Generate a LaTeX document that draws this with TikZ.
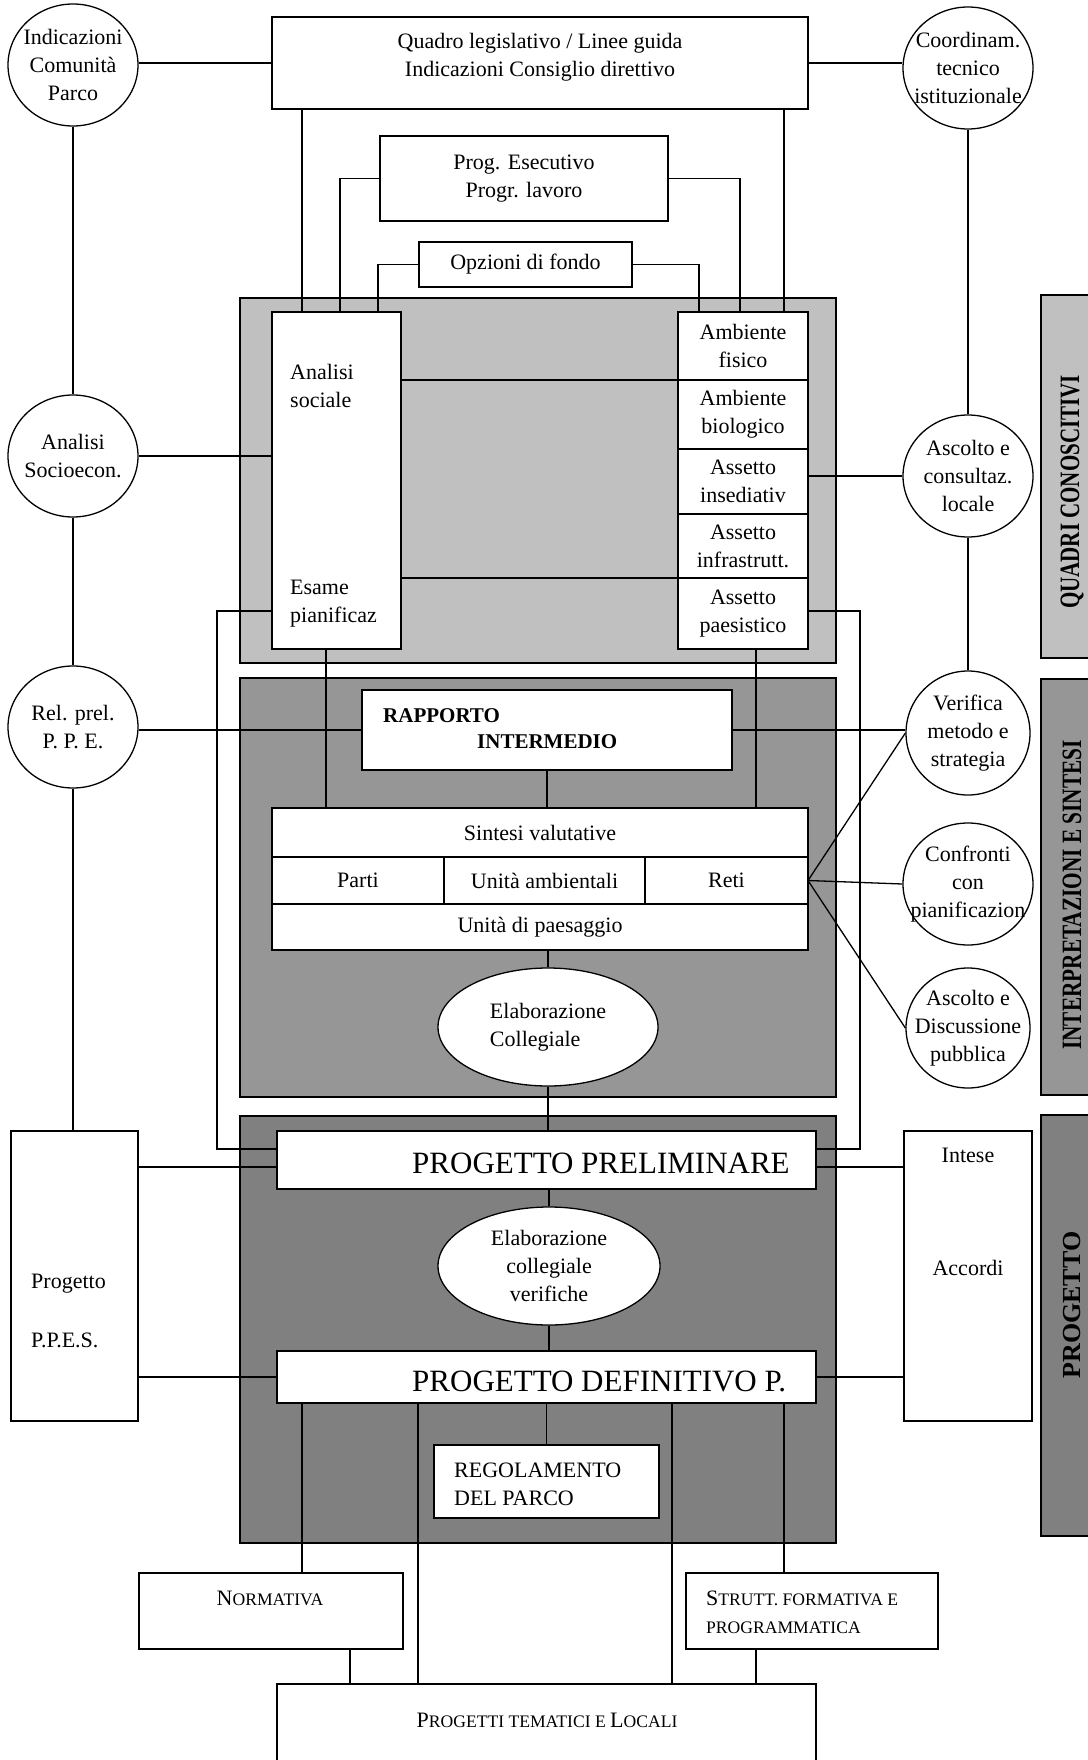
\documentclass[tikz,border=0pt]{standalone}
\usepackage{fontspec}
\setmainfont{Liberation Serif}
\usepackage{graphicx}
\usetikzlibrary{shapes.geometric, positioning, calc}

\definecolor{quadrigray}{HTML}{C0C0C0}
\definecolor{interpgray}{HTML}{969696}
\definecolor{progray}{HTML}{808080}
\newcommand{\diagfont}{\fontsize{22}{28}\selectfont}
\newcommand{\minicaps}[1]{{\fontsize{17.6}{28}\selectfont #1}}

\begin{document}
\begin{tikzpicture}[x=1pt, y=-1pt,
    box/.style={rectangle, draw, fill=white, line width=1.6pt, outer sep=0pt, inner sep=2pt, align=center, font=\diagfont},
    bubble/.style={ellipse, draw, fill=white, line width=1.3pt, inner sep=-14pt, minimum width=130pt, minimum height=122pt, align=center, font=\diagfont},
    panel/.style={rectangle, draw, line width=1.6pt, minimum width=596pt},
    side/.style={rectangle, draw, line width=1.4pt, minimum width=60pt},
    sidelbl/.style={rotate=90, inner sep=0pt, font=\fontsize{28}{30}\selectfont\bfseries},
    txt/.style={inner sep=0pt, align=left, font=\diagfont},
    big/.style={inner sep=0pt, font=\fontsize{31}{36}\selectfont},
    wire/.style={line width=1.3pt}
]
\useasboundingbox (0,0) rectangle (1087,1760);

% Panels
\node[panel, fill=quadrigray, minimum height=365pt] (quadri) at (538,480.5) {};
\node[panel, fill=interpgray, minimum height=419pt] (interp) at (538,887.5) {};
\node[panel, fill=progray, minimum height=427pt] (progetto) at (538,1329.5) {};
\node[side, fill=quadrigray, minimum height=363pt] (sideq) at (1071,476.5) {};
\node[side, fill=interpgray, minimum height=416pt] (sidei) at (1071,887) {};
\node[side, fill=progray, minimum height=421pt] (sidep) at (1071,1325.5) {};
\node[sidelbl] (sideq-t) at (1072,492) {\scalebox{0.75}[1]{QUADRI CONOSCITIVI}};
\node[sidelbl] (sidei-t) at (1072,895) {\scalebox{0.76}[1]{INTERPRETAZIONI E SINTESI}};
\node[sidelbl, font=\fontsize{26}{30}\selectfont\bfseries] (sidep-t) at (1072,1305) {PROGETTO};

% Nodes
\node[box, minimum width=536pt, minimum height=92pt] (quadro) at (540,63) {};
\node[txt, align=center] (quadro-t) at (540,57) {Quadro legislativo / Linee guida\\Indicazioni Consiglio direttivo};
\node[box, minimum width=288pt, minimum height=85pt] (esec) at (524,178.5) {Prog. Esecutivo\\Progr. lavoro};
\node[box, minimum width=213pt, minimum height=45pt] (opz) at (525.5,264.5) {Opzioni di fondo};

\node[box, minimum width=129pt, minimum height=337pt] (anal) at (336.5,480.5) {};
\node[txt, anchor=west] (anal-t) at (290,386) {Analisi\\sociale};
\node[txt, anchor=west] (esame-t) at (290,604) {Esame\\pianificaz};
\node[box, minimum width=130pt, minimum height=68pt] (fis) at (743,346) {Ambiente\\fisico};
\node[box, minimum width=130pt, minimum height=69pt, below=0pt of fis] (bio) {Ambiente\\biologico};
\node[box, minimum width=130pt, minimum height=65pt, below=0pt of bio] (ins) {Assetto\\insediativ};
\node[box, minimum width=130pt, minimum height=64pt, below=0pt of ins] (inf) {Assetto\\infrastrutt.};
\node[box, minimum width=130pt, minimum height=71pt, below=0pt of inf] (pae) {Assetto\\paesistico};

\node[box, minimum width=370pt, minimum height=80pt] (rap) at (547,730) {};
\node[txt, font=\fontsize{21}{28}\selectfont\bfseries, anchor=west] (rap-t1) at (383,716) {RAPPORTO};
\node[txt, font=\fontsize{21}{28}\selectfont\bfseries, anchor=west] (rap-t2) at (477,742) {INTERMEDIO};
\node[box, minimum width=536pt, minimum height=49pt] (sint) at (540,832.5) {Sintesi valutative};
\node[box, minimum width=172pt, minimum height=47pt, below right=0pt of sint.south west] (parti) {Parti};
\node[box, minimum width=201pt, minimum height=47pt, right=0pt of parti] (unita) {Unità ambientali};
\node[box, minimum width=163pt, minimum height=47pt, right=0pt of unita] (reti) {Reti};
\node[box, minimum width=536pt, minimum height=46pt, below right=0pt of parti.south west] (paes) {Unità di paesaggio};
\node[bubble, minimum width=220pt, minimum height=118pt, align=left] (elab) at (548,1027) {Elaborazione\\Collegiale};

\node[box, minimum width=539pt, minimum height=58pt] (prelim) at (546.5,1160) {};
\node[big, anchor=west] (prelim-t) at (412,1163) {PROGETTO PRELIMINARE};
\node[bubble, minimum width=222pt, minimum height=118pt] (verif) at (549,1266) {Elaborazione\\collegiale\\verifiche};
\node[box, minimum width=539pt, minimum height=52pt] (defin) at (546.5,1377) {};
\node[big, anchor=west] (defin-t) at (412,1381) {PROGETTO DEFINITIVO P.};
\node[box, minimum width=225pt, minimum height=73pt] (regol) at (546.5,1481.5) {};
\node[txt, anchor=west] (regol-t) at (454,1484) {REGOLAMENTO\\DEL PARCO};

\node[box, minimum width=264pt, minimum height=76pt] (norm) at (271,1611) {};
\node[txt] (norm-t) at (270,1598) {N\minicaps{ORMATIVA}};
\node[box, minimum width=252pt, minimum height=76pt] (strutt) at (812,1611) {};
\node[txt, anchor=west] (strutt-t) at (706,1612) {S\minicaps{TRUTT. FORMATIVA E}\\\minicaps{PROGRAMMATICA}};
\node[box, minimum width=539pt, minimum height=90pt] (tema) at (546.5,1729) {};
\node[txt] (tema-t) at (547,1720) {P\minicaps{ROGETTI TEMATICI E }L\minicaps{OCALI}};

% Left column
\node[bubble] (indic) at (73,65) {Indicazioni\\Comunità\\Parco};
\node[bubble] (socio) at (73,456) {Analisi\\Socioecon.};
\node[bubble] (relprel) at (73,727) {Rel. prel.\\P. P. E.};
\node[box, minimum width=127pt, minimum height=290pt] (ppes) at (74.5,1276) {};
\node[txt, anchor=west] (ppes-t1) at (31,1284) {Progetto};
\node[txt, anchor=west] (ppes-t2) at (31,1340) {P.P.E.S.};

% Right column
\node[bubble] (coord) at (968,68) {Coordinam.\\tecnico\\istituzionale};
\node[bubble] (ascolto) at (968,476) {Ascolto e\\consultaz.\\locale};
\node[bubble, minimum width=124pt, minimum height=124pt] (verifica) at (968,733) {Verifica\\metodo e\\strategia};
\node[bubble] (confr) at (968,884) {Confronti\\con\\pianificazion};
\node[bubble, minimum width=124pt, minimum height=120pt] (discus) at (968,1028) {Ascolto e\\Discussione\\pubblica};
\node[box, minimum width=128pt, minimum height=290pt] (intese) at (968,1276) {};
\node[txt] (intese-t1) at (968,1155) {Intese};
\node[txt] (intese-t2) at (968,1268) {Accordi};

% Bus positions
\coordinate (busL) at (217,611);
\coordinate (busR) at (860,611);
\coordinate (cA) at (302,0);
\coordinate (cB) at (340,0);
\coordinate (cC) at (378,0);
\coordinate (cD) at (699,0);
\coordinate (cE) at (740,0);
\coordinate (cF) at (784,0);
\coordinate (cG) at (326,0);
\coordinate (cH) at (756,0);
\coordinate (cI) at (418,0);
\coordinate (cJ) at (672,0);
\coordinate (cK) at (350,0);
\coordinate (pinL) at ([yshift=-7pt]prelim.west);
\coordinate (pinR) at ([yshift=-7pt]prelim.east);

% Connections
\draw[wire] (indic.east |- quadro.west) -- (quadro.west);
\draw[wire] (quadro.east) -- (quadro.east -| coord.west);
\draw[wire] (indic) -- (socio);
\draw[wire] (socio) -- (relprel);
\draw[wire] (relprel.south) -- (relprel.south |- ppes.north);
\draw[wire] (coord) -- (ascolto);
\draw[wire] (ascolto) -- (verifica);

\draw[wire] (quadro.south -| cA) -- (anal.north -| cA);
\draw[wire] (quadro.south -| cF) -- (fis.north -| cF);
\draw[wire] (esec.west) -| (anal.north -| cB);
\draw[wire] (esec.east) -| (fis.north -| cE);
\draw[wire] (opz.west) -| (anal.north -| cC);
\draw[wire] (opz.east) -| (fis.north -| cD);
\draw[wire] (anal.east |- fis.south) -- (fis.south west);
\draw[wire] (anal.east |- pae.north) -- (pae.north west);
\draw[wire] (socio.east) -- (socio.east -| anal.west);
\draw[wire] (ins.east |- ascolto.west) -- (ascolto.west);
\draw[wire] (anal.west |- busL) -- (busL) |- ([yshift=11pt]prelim.west);
\draw[wire] (pae.east |- busR) -- (busR) |- ([yshift=11pt]prelim.east);
\draw[wire] (anal.south -| cG) -- (sint.north -| cG);
\draw[wire] (pae.south -| cH) -- (sint.north -| cH);

\draw[wire] (relprel.east |- rap.west) -- (rap.west);
\draw[wire] (rap.east) -- (rap.east -| verifica.west);
\draw[wire] (rap.south) -- (rap.south |- sint.north);
\draw[wire] (reti.east) -- (verifica.west);
\draw[wire] (reti.east) -- (confr.west);
\draw[wire] (reti.east) -- (discus.west);
\draw[wire] (elab.north |- paes.south) -- (elab.north);
\draw[wire] (elab.south) -- (elab.south |- prelim.north);

\draw[wire] (pinL -| ppes.east) -- (pinL);
\draw[wire] (pinR) -- (pinR -| intese.west);
\draw[wire] (defin.west -| ppes.east) -- (defin.west);
\draw[wire] (defin.east) -- (defin.east -| intese.west);
\draw[wire] (verif.north |- prelim.south) -- (verif.north);
\draw[wire] (verif.south) -- (verif.south |- defin.north);
\draw[wire] (regol.north |- defin.south) -- (regol.north);
\draw[wire] (defin.south -| cA) -- (norm.north -| cA);
\draw[wire] (defin.south -| cF) -- (strutt.north -| cF);
\draw[wire] (defin.south -| cI) -- (tema.north -| cI);
\draw[wire] (defin.south -| cJ) -- (tema.north -| cJ);
\draw[wire] (norm.south -| cK) -- (tema.north -| cK);
\draw[wire] (strutt.south -| cH) -- (tema.north -| cH);

\end{tikzpicture}
\end{document}
